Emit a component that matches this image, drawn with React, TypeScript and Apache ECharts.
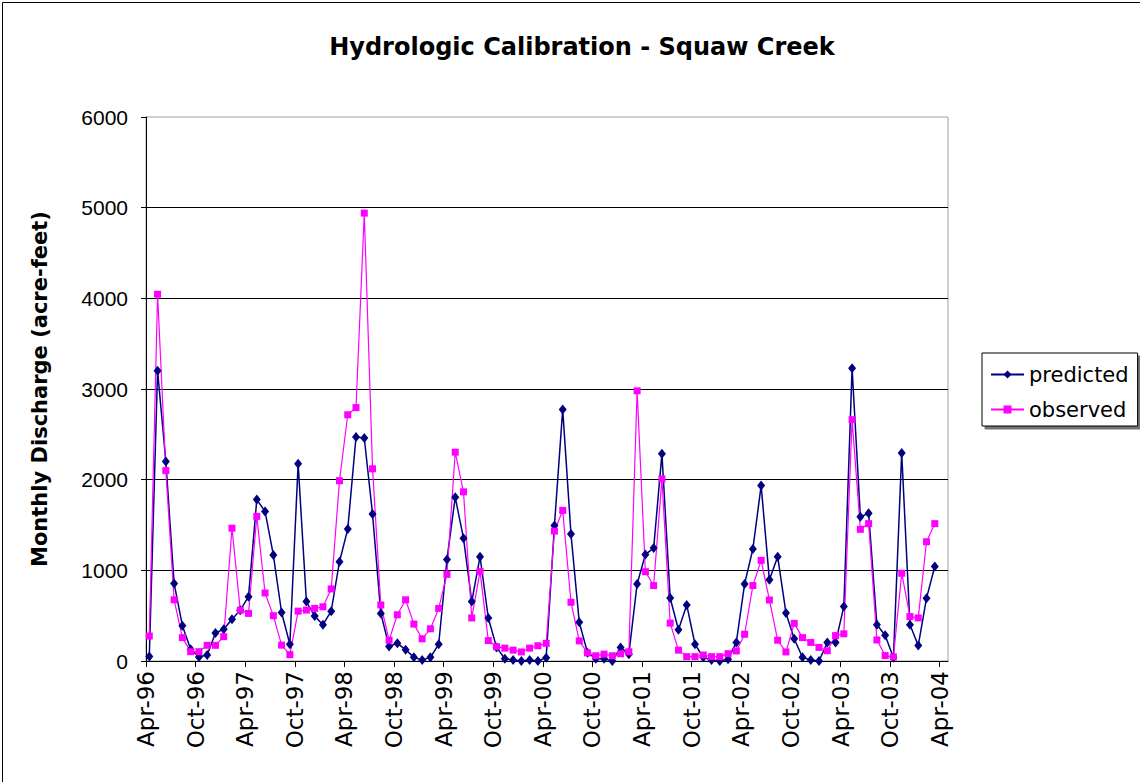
import React, { useEffect, useRef } from "react";
import * as echarts from "echarts";

// Tick labels of the time axis, one every six months starting Apr-96
const xTickLabels = [
  "Apr-96", "Oct-96", "Apr-97", "Oct-97", "Apr-98", "Oct-98", "Apr-99", "Oct-99",
  "Apr-00", "Oct-00", "Apr-01", "Oct-01", "Apr-02", "Oct-02", "Apr-03", "Oct-03", "Apr-04",
];
const monthsPerTick = 6;
const axisMonths = 97; // Apr-96 .. May-04
const positionInMonth = 0.4; // data are plotted a little after the start of each month

const yTicks = [0, 1000, 2000, 3000, 4000, 5000, 6000];

// Monthly discharge, acre-feet, Apr-96 .. Mar-04
const predicted = [
  50, 3200, 2200, 855, 390, 130, 45, 65, 310, 350, 460, 560,
  710, 1780, 1650, 1170, 535, 185, 2175, 655, 495, 400, 550, 1095,
  1455, 2470, 2460, 1620, 525, 160, 195, 125, 40, 10, 40, 185,
  1120, 1805, 1355, 655, 1150, 475, 150, 25, 10, 0, 10, 0,
  37, 1495, 2775, 1400, 428, 92, 26, 26, 0, 150, 75, 850,
  1175, 1245, 2285, 695, 345, 618, 185, 40, 12, 0, 20, 205,
  850, 1235, 1935, 895, 1150, 530, 245, 40, 12, 0, 203, 203,
  600, 3230, 1590, 1630, 400, 285, 35, 2295, 400, 170, 693, 1042,
];
const observed = [
  275, 4045, 2100, 675, 258, 103, 103, 173, 173, 268, 1465, 561,
  525, 1595, 750, 500, 175, 70, 550, 562, 580, 598, 795, 1988,
  2716, 2795, 4940, 2120, 618, 230, 510, 675, 407, 245, 355, 580,
  955, 2303, 1866, 475, 988, 225, 158, 142, 120, 100, 142, 168,
  195, 1433, 1661, 648, 222, 90, 58, 76, 58, 80, 102, 2980,
  985, 832, 2008, 418, 120, 48, 48, 66, 48, 48, 81, 111,
  295, 832, 1110, 673, 229, 100, 415, 258, 205, 150, 113, 280,
  300, 2662, 1452, 1515, 232, 60, 45, 968, 490, 475, 1315, 1515,
];

const FONT = "DejaVu Sans";
const NUM_FONT = "Liberation Sans";

export default function App() {
  const ref = useRef<HTMLDivElement>(null);

  useEffect(() => {
    if (!ref.current) return;
    const chart = echarts.init(ref.current, null, { renderer: "svg" });
    const toPoints = (arr: number[]) => arr.map((v, i) => [i + positionInMonth, v]);

    chart.setOption({
      animation: false,
      backgroundColor: "#ffffff",
      title: {
        text: "Hydrologic Calibration - Squaw Creek",
        left: 577,
        top: 30,
        textAlign: "center",
        textStyle: { fontFamily: FONT, fontSize: 24, fontWeight: "bold", color: "#000" },
      },
      legend: {
        data: ["predicted", "observed"],
        orient: "vertical",
        left: 982,
        top: 353,
        padding: [11, 9, 6, 8],
        itemWidth: 33,
        itemHeight: 10,
        itemGap: 14,
        borderColor: "#000",
        borderWidth: 1,
        backgroundColor: "#fff",
        shadowColor: "rgba(0,0,0,0.55)",
        shadowOffsetX: 3,
        shadowOffsetY: 3,
        shadowBlur: 0,
        textStyle: { fontFamily: FONT, fontSize: 21, color: "#000" },
      },
      grid: {
        left: 146,
        right: 192,
        top: 117,
        bottom: 121,
        show: true,
        borderColor: "#a0a0a0",
        borderWidth: 1,
      },
      xAxis: {
        type: "value",
        min: 0,
        max: axisMonths,
        interval: monthsPerTick,
        axisLine: { show: true, onZero: false, lineStyle: { color: "#000", width: 1 } },
        axisTick: { show: true, length: 6, lineStyle: { color: "#000" } },
        splitLine: { show: false },
        axisLabel: {
          rotate: 90,
          margin: 10,
          showMaxLabel: false,
          fontFamily: FONT,
          fontSize: 23,
          color: "#000",
          formatter: (v: number) => xTickLabels[Math.round(v / monthsPerTick)] ?? "",
        },
      },
      yAxis: {
        type: "value",
        min: yTicks[0],
        max: yTicks[yTicks.length - 1],
        interval: yTicks[1] - yTicks[0],
        name: "Monthly Discharge (acre-feet)",
        nameLocation: "middle",
        nameGap: 96,
        nameRotate: 90,
        nameTextStyle: { fontFamily: FONT, fontSize: 21, fontWeight: "bold", color: "#000" },
        axisLine: { show: true, lineStyle: { color: "#000", width: 1 } },
        axisTick: { show: true, length: 5, lineStyle: { color: "#000" } },
        splitLine: { show: true, showMaxLine: false, lineStyle: { color: "#000", width: 1 } },
        axisLabel: {
          fontFamily: NUM_FONT,
          fontSize: 21,
          color: "#000",
          margin: 18,
          formatter: (v: number) => String(v),
        },
      },
      series: [
        {
          name: "predicted",
          type: "line",
          data: toPoints(predicted),
          symbol: "diamond",
          symbolSize: [8, 10],
          lineStyle: { color: "#000080", width: 1.5 },
          itemStyle: { color: "#000080" },
          showAllSymbol: true,
        },
        {
          name: "observed",
          type: "line",
          data: toPoints(observed),
          symbol: "rect",
          symbolSize: 7,
          lineStyle: { color: "#ff00ff", width: 1.2 },
          itemStyle: { color: "#ff00ff" },
          showAllSymbol: true,
        },
      ],
      graphic: [
        {
          type: "rect",
          left: 0,
          top: 0,
          shape: { x: 0, y: 0, width: 1139, height: 781 },
          style: { fill: "none", stroke: "#000", lineWidth: 1 },
          silent: true,
        },
      ],
    });

    return () => chart.dispose();
  }, []);

  return (
    <div
      ref={ref}
      style={{ position: "fixed", left: 0, top: 0, width: 1140, height: 782, background: "#fff" }}
    />
  );
}
